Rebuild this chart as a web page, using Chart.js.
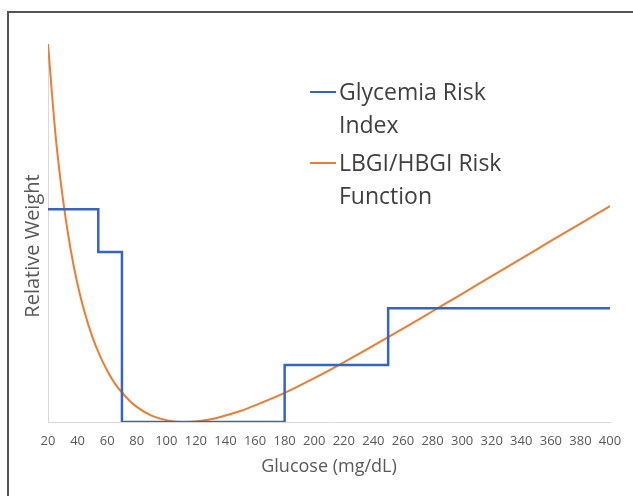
<!DOCTYPE html>
<html>
<head>
<meta charset="utf-8">
<script src="https://cdn.jsdelivr.net/npm/chart.js@4/dist/chart.umd.min.js"></script>
<style>
  html, body { margin: 0; padding: 0; background: #fff; overflow: hidden; }
  #frame {
    position: absolute; left: 7px; top: 11px; width: 700px; height: 600px;
    border-left: 2px solid #555; border-top: 2px solid #555;
  }
  #wrap { position: absolute; left: 0; top: 0; width: 633px; height: 496px; }
</style>
</head>
<body>
<div id="frame"></div>
<div id="wrap"><canvas id="chart" width="633" height="496"></canvas></div>
<script>
// Glycemia Risk Index: step edges (mg/dL) and the level held from each edge
const griX = [20, 54, 70, 180, 250, 400];
const griY = [56.3, 45.0, 0, 15.1, 30.1, 30.1];

// LBGI/HBGI risk function
const riskX = [20, 25, 30, 35, 40, 45, 50, 55, 60, 65, 70, 75, 80, 90, 100, 110, 120, 130, 140, 150,
  160, 180, 200, 220, 240, 260, 280, 300, 320, 340, 360, 380, 400];
const riskY = [100, 76.3, 59.2, 46.3, 36.4, 28.7, 22.5, 17.6, 13.6, 10.3, 7.8, 5.7, 4.0, 1.7, 0.5, 0.0, 0.14, 0.7, 1.7, 2.9,
  4.4, 7.7, 11.6, 15.8, 20.2, 24.7, 29.3, 33.9, 38.6, 43.2, 47.9, 52.5, 57.1];

const xTicks = [20, 40, 60, 80, 100, 120, 140, 160, 180, 200, 220, 240, 260, 280, 300, 320, 340, 360, 380, 400];
const legendLines = [["Glycemia Risk", "Index"], ["LBGI/HBGI Risk", "Function"]];
const yTitle = "Relative Weight";

const BLUE = "#3565c0";
const ORANGE = "#ed7d31";
const FONT = "'Open Sans', sans-serif";

const toPoints = (xs, ys) => xs.map((x, i) => ({ x, y: ys[i] }));

// legend drawn inside the plot, with wrapped labels like the original
const wrappedLegend = {
  id: "wrappedLegend",
  afterDraw(chart) {
    const ctx = chart.ctx;
    ctx.save();
    ctx.font = "23px " + FONT;
    ctx.fillStyle = "#404040";
    ctx.textBaseline = "alphabetic";
    let y = 100;
    chart.data.datasets.forEach((ds, i) => {
      ctx.strokeStyle = ds.borderColor;
      ctx.lineWidth = 2;
      ctx.beginPath();
      ctx.moveTo(310, y - 8);
      ctx.lineTo(336, y - 8);
      ctx.stroke();
      legendLines[i].forEach((line, j) => {
        ctx.fillText(line, 339, y + j * 33);
      });
      y += 33 * legendLines[i].length + 5;
    });

    // y axis title, sits a little below the plot's middle in the original
    ctx.translate(33, 246);
    ctx.rotate(-Math.PI / 2);
    ctx.font = "20px " + FONT;
    ctx.fillStyle = "#595959";
    ctx.textAlign = "center";
    ctx.textBaseline = "middle";
    ctx.fillText(yTitle, 0, 0);
    ctx.restore();
  },
};

new Chart(document.getElementById("chart"), {
  type: "line",
  data: {
    datasets: [
      {
        label: legendLines[0].join(" "),
        data: toPoints(griX, griY),
        borderColor: BLUE,
        borderWidth: 2.5,
        stepped: true,
        pointRadius: 0,
        fill: false,
      },
      {
        label: legendLines[1].join(" "),
        data: toPoints(riskX, riskY),
        borderColor: ORANGE,
        borderWidth: 2,
        cubicInterpolationMode: "monotone",
        pointRadius: 0,
        fill: false,
      },
    ],
  },
  options: {
    responsive: false,
    animation: false,
    layout: { padding: { top: 44, right: 23, bottom: 0, left: 0 } },
    plugins: { legend: { display: false }, tooltip: { enabled: false } },
    scales: {
      x: {
        type: "linear",
        min: 20,
        max: 400,
        afterBuildTicks: (axis) => { axis.ticks = xTicks.map((v) => ({ value: v })); },
        afterFit: (axis) => { axis.height = 74; },
        grid: { display: false, drawTicks: false },
        border: { display: true, color: "#d9d9d9", width: 1 },
        ticks: { color: "#595959", font: { family: FONT, size: 13 }, padding: 11, maxRotation: 0, autoSkip: false },
        title: {
          display: true,
          text: "Glucose (mg/dL)",
          color: "#595959",
          font: { family: FONT, size: 18 },
          padding: { top: 0, bottom: 18 },
        },
      },
      y: {
        min: 0,
        max: 100,
        afterFit: (axis) => { axis.width = 48; },
        grid: { display: false, drawTicks: false },
        border: { display: true, color: "#d9d9d9", width: 1 },
        ticks: { display: false },
      },
    },
  },
  plugins: [wrappedLegend],
});
</script>
</body>
</html>
